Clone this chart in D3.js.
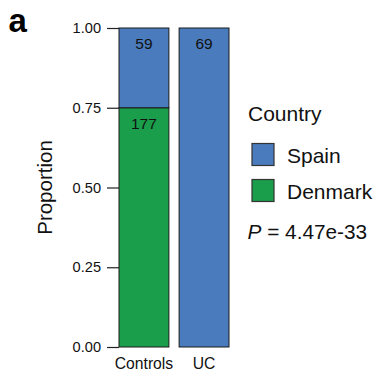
<!DOCTYPE html>
<html>
<head>
<meta charset="utf-8">
<script src="https://cdn.jsdelivr.net/npm/d3@7"></script>
<style>
html,body{margin:0;padding:0;background:#fff;}
svg{display:block;font-family:"Liberation Sans",Arial,Helvetica,sans-serif;}
</style>
</head>
<body>
<svg id="chart" width="376" height="372"></svg>
<script>
const categories = ["Controls", "UC"];
const countries = ["Spain", "Denmark"];
const spainCounts = [59, 69];
const denmarkCounts = [177, 0];
const yTicks = [0, 0.25, 0.5, 0.75, 1];
const yTickLabels = ["0.00", "0.25", "0.50", "0.75", "1.00"];
const colors = {Spain: "#4a7bbd", Denmark: "#1a9e4b"};
const pValueText = "4.47e-33";

const svg = d3.select("#chart");

const rows = categories.map((c, i) => {
  const total = spainCounts[i] + denmarkCounts[i];
  return {cat: c, Denmark: denmarkCounts[i] / total, Spain: spainCounts[i] / total,
          nDenmark: denmarkCounts[i], nSpain: spainCounts[i]};
});
const stack = d3.stack().keys(["Denmark", "Spain"])(rows);

const y = d3.scaleLinear().domain([0, 1]).range([347, 28]);
const x = d3.scaleBand().domain(categories).range([119, 229]).paddingInner(0.17).paddingOuter(0);

// bars
stack.forEach(layer => {
  const key = layer.key;
  svg.append("g").selectAll("rect").data(layer).join("rect")
    .attr("x", d => x(d.data.cat))
    .attr("width", x.bandwidth())
    .attr("y", d => y(d[1]))
    .attr("height", d => y(d[0]) - y(d[1]))
    .attr("fill", colors[key])
    .attr("stroke", "#1a1a1a")
    .attr("stroke-width", 1)
    .style("display", d => (d[1] - d[0]) > 0 ? null : "none");
  svg.append("g").selectAll("text").data(layer.filter(d => d[1] - d[0] > 0)).join("text")
    .attr("x", d => x(d.data.cat) + x.bandwidth() / 2)
    .attr("y", d => y(d[1]) + 21)
    .attr("text-anchor", "middle")
    .attr("font-size", 15.5)
    .attr("fill", "#111")
    .text(d => d.data["n" + key]);
});

// y axis
const yAxis = d3.axisLeft(y).tickValues(yTicks)
  .tickFormat((d, i) => yTickLabels[i]).tickSize(12).tickPadding(6);
const gy = svg.append("g").attr("transform", "translate(119,0)").call(yAxis);
gy.select(".domain").remove();
gy.selectAll(".tick line").attr("stroke", "#222").attr("stroke-width", 1.2);
gy.selectAll(".tick text").attr("font-size", 14.6).attr("fill", "#111")
  .attr("font-family", "'Liberation Sans',Arial,Helvetica,sans-serif");

// x axis
const xAxis = d3.axisBottom(x).tickSize(0).tickPadding(11);
const gx = svg.append("g").attr("transform", "translate(0,347)").call(xAxis);
gx.select(".domain").remove();
gx.selectAll(".tick text").attr("font-size", 15.7).attr("fill", "#111")
  .attr("font-family", "'Liberation Sans',Arial,Helvetica,sans-serif");

// y title
svg.append("text")
  .attr("transform", "translate(51.5,187.5) rotate(-90)")
  .attr("text-anchor", "middle")
  .attr("font-size", 20.5)
  .attr("fill", "#111")
  .text("Proportion");

// panel letter
svg.append("text").attr("x", 8.5).attr("y", 31.5)
  .attr("font-size", 33).attr("font-weight", "bold").attr("fill", "#000").text("a");

// legend
svg.append("text").attr("x", 248).attr("y", 120.7)
  .attr("font-size", 21).attr("fill", "#111").text("Country");
const legendY = [143.5, 179.5];
const lg = svg.append("g").selectAll("g").data(countries).join("g");
lg.append("rect")
  .attr("x", 252).attr("y", (d, i) => legendY[i])
  .attr("width", 22).attr("height", 22)
  .attr("fill", d => colors[d]).attr("stroke", "#333").attr("stroke-width", 1.2);
lg.append("text")
  .attr("x", 287).attr("y", (d, i) => legendY[i] + 19.2)
  .attr("font-size", 21).attr("fill", "#111").text(d => d);

const pt = svg.append("text").attr("x", 247.5).attr("y", 239)
  .attr("font-size", 20.8).attr("fill", "#111");
pt.append("tspan").attr("font-style", "italic").text("P");
pt.append("tspan").text(" = " + pValueText);
</script>
</body>
</html>
